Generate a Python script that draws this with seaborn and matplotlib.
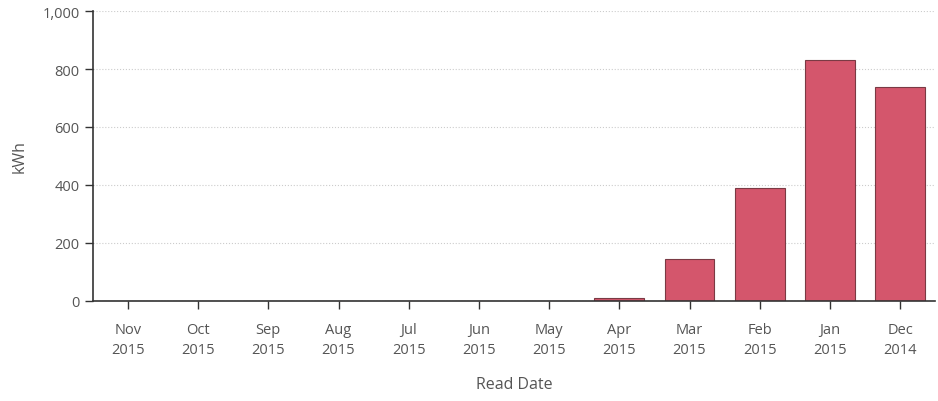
import pandas as pd
import matplotlib.pyplot as plt
import seaborn as sns
from matplotlib.ticker import FuncFormatter

months = ['Nov\n2015', 'Oct\n2015', 'Sep\n2015', 'Aug\n2015', 'Jul\n2015', 'Jun\n2015',
          'May\n2015', 'Apr\n2015', 'Mar\n2015', 'Feb\n2015', 'Jan\n2015', 'Dec\n2014']
kwh = [0, 0, 0, 0, 0, 0, 0, 9, 143, 388, 831, 737]

df = pd.DataFrame({'Read Date': months, 'kWh': kwh})

sns.set_style('white')
plt.rcParams['font.family'] = ['Open Sans', 'DejaVu Sans']

fig = plt.figure(figsize=(9.38, 4.02), dpi=100)
ax = fig.add_axes([0.099, 0.249, 0.898, 0.721])

sns.barplot(data=df, x='Read Date', y='kWh', color='#d4566c', saturation=1,
            width=0.71, edgecolor='#7a3a44', linewidth=0.8, ax=ax)

ax.set_ylim(0, 1000)
ax.set_xlim(-0.5, 11.5)
ax.set_yticks([0, 200, 400, 600, 800, 1000])
ax.yaxis.set_major_formatter(FuncFormatter(lambda v, p: f'{int(v):,}'))
ax.yaxis.grid(True, color='#cccccc', linestyle=':', linewidth=0.8)
ax.set_axisbelow(True)

for s in ['top', 'right']:
    ax.spines[s].set_visible(False)
ax.spines['left'].set_color('#333333')
ax.spines['bottom'].set_color('#333333')
ax.spines['left'].set_linewidth(1.2)
ax.spines['bottom'].set_linewidth(1.2)

ax.tick_params(axis='both', which='major', direction='out', length=6, width=1,
               color='#333333', labelcolor='#555555', labelsize=10.5, left=True, bottom=True)
ax.tick_params(axis='x', pad=9)
for t in ax.get_xticklabels():
    t.set_linespacing(1.45)
ax.set_xlabel('Read Date', fontsize=11.5, color='#555555', labelpad=14)
ax.set_ylabel('kWh', fontsize=11.5, color='#555555', labelpad=11)

plt.savefig('out.png', dpi=100)
